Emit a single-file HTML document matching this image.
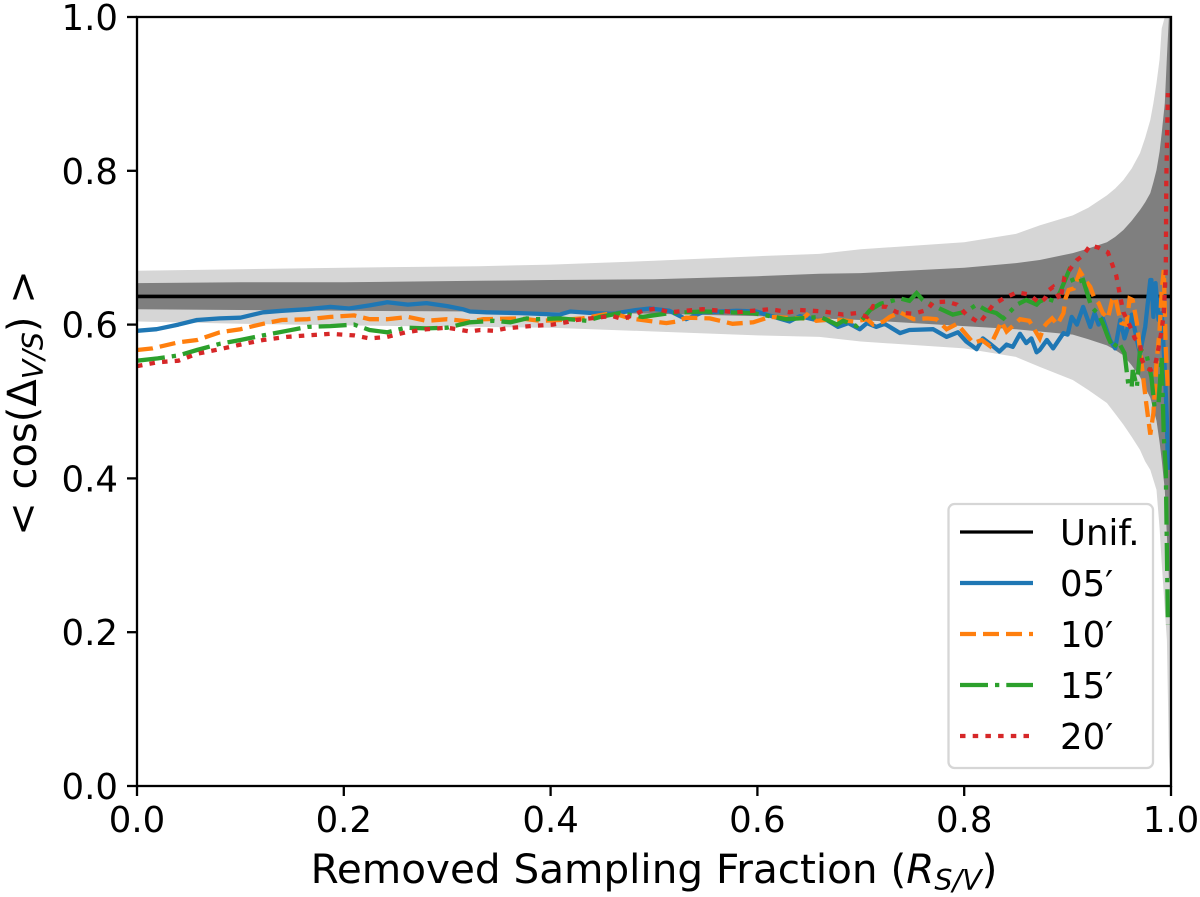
<!DOCTYPE html>
<html>
<head>
<meta charset="utf-8">
<title>Removed Sampling Fraction chart</title>
<style>
html,body{margin:0;padding:0;background:#fff;}
svg{display:block;font-family:"DejaVu Sans","Liberation Sans",sans-serif;}
</style>
</head>
<body>
<svg id="chart" xmlns="http://www.w3.org/2000/svg" width="1200" height="897" viewBox="0 0 1200 897">
  <defs><clipPath id="plot-clip"><rect x="137" y="17" width="1034" height="769"/></clipPath></defs>
  <rect x="0" y="0" width="1200" height="897" fill="#fff"/>
  <g id="bands" clip-path="url(#plot-clip)"></g>
  <g id="lines" clip-path="url(#plot-clip)"></g>
  <g id="legend">
    <rect x="948.5" y="504" width="204.5" height="264" rx="6" ry="6" fill="#fff" fill-opacity="0.8" stroke="#d6d6d6" stroke-width="2.3"/>
  </g>
  <g id="axes"></g>
  <rect x="137" y="17" width="1034" height="769" fill="none" stroke="#000" stroke-width="2.3"/>
  <text x="654" y="883" font-size="40.5" text-anchor="middle" fill="#000">Removed Sampling Fraction (<tspan font-style="italic">R</tspan><tspan font-style="italic" font-size="28.5" dy="7">S/V</tspan><tspan dy="-7">)</tspan></text>
  <text transform="translate(36,403) rotate(-90)" font-size="40" text-anchor="middle" fill="#000">&lt; cos(Δ<tspan font-size="28.5" font-style="italic" dy="7">V/S</tspan><tspan dy="-7">) &gt;</tspan></text>
</svg>
<script>
// Axis ticks
const xTickValues = [0.0, 0.2, 0.4, 0.6, 0.8, 1.0];
const yTickValues = [0.0, 0.2, 0.4, 0.6, 0.8, 1.0];
const xTickLabels = ["0.0", "0.2", "0.4", "0.6", "0.8", "1.0"];
const yTickLabels = ["0.0", "0.2", "0.4", "0.6", "0.8", "1.0"];

// Reference level
const uniformLevel = 0.6366;

// Bands
const bandFractions = [0,.1,.2,.33,.4,.5,.6,.66,.7,.8,.85,.873,.905,.92,.938,.946,.954,.962,.97,.975,.98,.983,.986,.989,.991,.994,.996,.998,1];
const lightUpper = [.670,.672,.674,.676,.678,.683,.689,.692,.698,.707,.718,.729,.742,.752,.768,.777,.788,.803,.823,.843,.866,.888,.914,.945,.985,1,1,1,1];
const lightLower = [.604,.601,.599,.597,.596,.591,.586,.584,.578,.569,.558,.545,.528,.515,.498,.484,.470,.454,.437,.422,.411,.398,.385,.335,.290,.230,.190,.040,0];
const darkUpper = [.654,.655,.655,.657,.658,.659,.663,.666,.667,.674,.680,.684,.693,.699,.707,.714,.723,.735,.749,.759,.771,.785,.801,.825,.849,.888,.948,1,1];
const darkLower = [.620,.619,.618,.617,.616,.614,.611,.608,.606,.598,.594,.591,.587,.581,.573,.567,.560,.547,.532,.518,.505,.490,.475,.447,.424,.385,.325,.270,.270];

// Series 05'
const fractions05 = [0,.019,.040,.058,.08,.10,.122,.14,.165,.187,.205,.225,.242,.262,.28,.30,.315,.322,.338,.370,.409,.419,.441,.460,.483,.496,.515,.531,.547,.580,.599,.621,.631,.641,.657,.667,.678,.688,.699,.706,.715,.723,.738,.747,.770,.783,.794,.802,.812,.818,.826,.834,.841,.847,.854,.860,.865,.870,.873,.880,.886,.896,.900,.904,.909,.915,.922,.926,.930,.934,.941,.946,.951,.955,.962,.967,.970,.975,.980,.981,.983,.985,.988,.991,.994,.996,.997];
const values05 = [.592,.594,.600,.606,.608,.609,.616,.618,.620,.623,.621,.625,.629,.626,.628,.624,.620,.617,.616,.615,.613,.617,.615,.614,.619,.621,.618,.607,.616,.618,.617,.608,.604,.611,.606,.606,.597,.602,.594,.602,.597,.601,.589,.593,.594,.584,.590,.578,.568,.582,.574,.565,.574,.571,.588,.576,.582,.564,.567,.580,.569,.589,.587,.610,.600,.623,.597,.615,.600,.608,.580,.569,.606,.582,.613,.580,.563,.597,.658,.658,.610,.654,.606,.615,.541,.476,.411];

// Series 10'
const fractions10 = [0,.015,.04,.058,.08,.10,.122,.14,.165,.187,.21,.225,.242,.262,.28,.30,.322,.335,.370,.390,.409,.431,.451,.460,.477,.499,.512,.522,.531,.554,.576,.596,.612,.644,.648,.657,.673,.693,.706,.712,.722,.728,.738,.751,.764,.773,.783,.793,.809,.817,.825,.831,.836,.841,.854,.863,.873,.877,.880,.885,.890,.896,.898,.901,.906,.912,.917,.922,.926,.930,.934,.939,.943,.946,.949,.952,.957,.960,.963,.967,.970,.973,.976,.980,.983,.986,.989,.991,.993,.995,.997];
const values10 = [.567,.569,.577,.580,.590,.594,.601,.606,.607,.610,.612,.607,.607,.610,.605,.607,.604,.607,.608,.605,.606,.608,.613,.615,.608,.604,.602,.604,.609,.608,.601,.603,.610,.608,.613,.605,.607,.604,.607,.600,.604,.610,.616,.607,.608,.607,.594,.601,.576,.580,.572,.589,.604,.591,.607,.605,.582,.597,.602,.608,.600,.615,.634,.645,.647,.669,.658,.649,.634,.628,.615,.608,.632,.636,.617,.602,.600,.634,.632,.602,.567,.532,.498,.457,.485,.550,.593,.645,.671,.567,.515];

// Series 15'
const fractions15 = [0,.02,.04,.058,.08,.10,.122,.145,.165,.187,.21,.225,.242,.26,.28,.30,.322,.345,.361,.377,.386,.409,.435,.448,.467,.489,.515,.547,.596,.628,.641,.661,.677,.683,.696,.709,.719,.728,.738,.747,.754,.760,.776,.789,.802,.812,.821,.831,.838,.851,.860,.870,.873,.880,.888,.893,.901,.906,.915,.923,.930,.934,.939,.944,.949,.955,.959,.962,.963,.967,.970,.976,.981,.984,.988,.991,.993,.995,.997];
const values15 = [.553,.556,.560,.567,.575,.580,.586,.592,.597,.598,.600,.593,.590,.596,.595,.596,.603,.605,.603,.608,.607,.608,.605,.610,.615,.610,.615,.617,.615,.607,.608,.610,.600,.605,.598,.619,.627,.630,.634,.631,.641,.632,.621,.613,.617,.626,.619,.615,.608,.626,.632,.626,.630,.634,.630,.643,.669,.654,.658,.623,.613,.602,.584,.569,.578,.563,.519,.519,.541,.519,.567,.563,.532,.493,.498,.558,.454,.411,.210];

// Series 20'
const fractions20 = [0,.02,.04,.058,.08,.10,.122,.145,.165,.187,.21,.225,.242,.26,.28,.30,.322,.332,.345,.357,.380,.402,.415,.425,.451,.460,.470,.489,.502,.515,.547,.580,.612,.631,.641,.664,.683,.696,.706,.712,.725,.735,.751,.764,.770,.783,.793,.802,.815,.828,.838,.851,.863,.873,.878,.882,.886,.893,.897,.904,.909,.915,.922,.930,.939,.947,.951,.954,.959,.962,.965,.970,.972,.975,.980,.984,.987,.991,.993,.995,.9955,.997];
const values20 = [.546,.551,.553,.562,.568,.574,.580,.584,.586,.588,.586,.582,.584,.590,.594,.596,.591,.593,.592,.595,.598,.600,.603,.606,.610,.611,.607,.618,.621,.616,.620,.616,.620,.616,.619,.617,.613,.615,.610,.624,.623,.616,.614,.619,.629,.630,.626,.613,.602,.626,.634,.642,.639,.628,.634,.645,.649,.632,.662,.675,.684,.690,.703,.700,.694,.664,.636,.616,.602,.593,.582,.576,.554,.545,.541,.543,.563,.593,.615,.671,.788,.901];

const xAxis = v => 137 + v * 1034;
const yAxis = v => 786 - v * 769;
const NS = "http://www.w3.org/2000/svg";

function make(tag, parent, attrs) {
  const el = document.createElementNS(NS, tag);
  for (const k in attrs) el.setAttribute(k, attrs[k]);
  parent.appendChild(el);
  return el;
}
function bandPoints(upper, lower) {
  const top = bandFractions.map((f, i) => xAxis(f).toFixed(1) + "," + yAxis(upper[i]).toFixed(1));
  const bottom = bandFractions.map((f, i) => xAxis(f).toFixed(1) + "," + yAxis(lower[i]).toFixed(1)).reverse();
  return top.concat(bottom).join(" ");
}
function linePoints(xs, ys) {
  return xs.map((f, i) => xAxis(f).toFixed(1) + "," + yAxis(ys[i]).toFixed(1)).join(" ");
}

const bands = document.getElementById("bands");
const lightBand = make("polygon", bands, { points: bandPoints(lightUpper, lightLower), fill: "#d6d6d6" });


const darkBand = make("polygon", bands, { points: bandPoints(darkUpper, darkLower), fill: "#7f7f7f" });



const lines = document.getElementById("lines");
const uniformLine = make("line", lines, { x1: xAxis(0), x2: xAxis(1), y1: yAxis(uniformLevel), y2: yAxis(uniformLevel), stroke: "#000", "stroke-width": 3.6 });



const line05 = make("polyline", lines, { points: linePoints(fractions05, values05), fill: "none", stroke: "#1f77b4", "stroke-width": 4.3, "stroke-linejoin": "round" });


const line10 = make("polyline", lines, { points: linePoints(fractions10, values10), fill: "none", stroke: "#ff7f0e", "stroke-width": 4.3, "stroke-dasharray": "16 7" });


const line15 = make("polyline", lines, { points: linePoints(fractions15, values15), fill: "none", stroke: "#2ca02c", "stroke-width": 4.3, "stroke-dasharray": "28 7 4.3 7" });


const line20 = make("polyline", lines, { points: linePoints(fractions20, values20), fill: "none", stroke: "#d62728", "stroke-width": 4.3, "stroke-dasharray": "5.5 7.2" });



const axes = document.getElementById("axes");
xTickValues.forEach((v, i) => {
  const tick = make("line", axes, { x1: xAxis(v), x2: xAxis(v), y1: 786, y2: 796, stroke: "#000", "stroke-width": 2.3 });
  
  
  const label = make("text", axes, { x: xAxis(v), y: 832, "font-size": 35.5, "text-anchor": "middle", fill: "#000" });
  
  
  label.textContent = xTickLabels[i];
});
yTickValues.forEach((v, i) => {
  const tick = make("line", axes, { x1: 127, x2: 137, y1: yAxis(v), y2: yAxis(v), stroke: "#000", "stroke-width": 2.3 });
  
  
  const label = make("text", axes, { x: 118, y: yAxis(v) + 13, "font-size": 35.5, "text-anchor": "end", fill: "#000" });
  
  
  label.textContent = yTickLabels[i];
});

// Legend
const legendLabels = ["Unif.", "05′", "10′", "15′", "20′"];
const legendColors = ["#000", "#1f77b4", "#ff7f0e", "#2ca02c", "#d62728"];
const legendDashes = ["none", "none", "16 7", "28 7 4.3 7", "5.5 7.2"];
const legend = document.getElementById("legend");
legendLabels.forEach((name, i) => {
  const y = 532 + i * 51;
  const swatch = make("line", legend, { x1: 960, x2: 1033, y1: y, y2: y, stroke: legendColors[i], "stroke-width": i === 0 ? 3.2 : 4.2, "stroke-dasharray": legendDashes[i] });
  
  
  const label = make("text", legend, { x: 1060, y: y + 13, "font-size": 35.5, fill: "#000" });
  
  
  label.textContent = name;
});
</script>
</body>
</html>
